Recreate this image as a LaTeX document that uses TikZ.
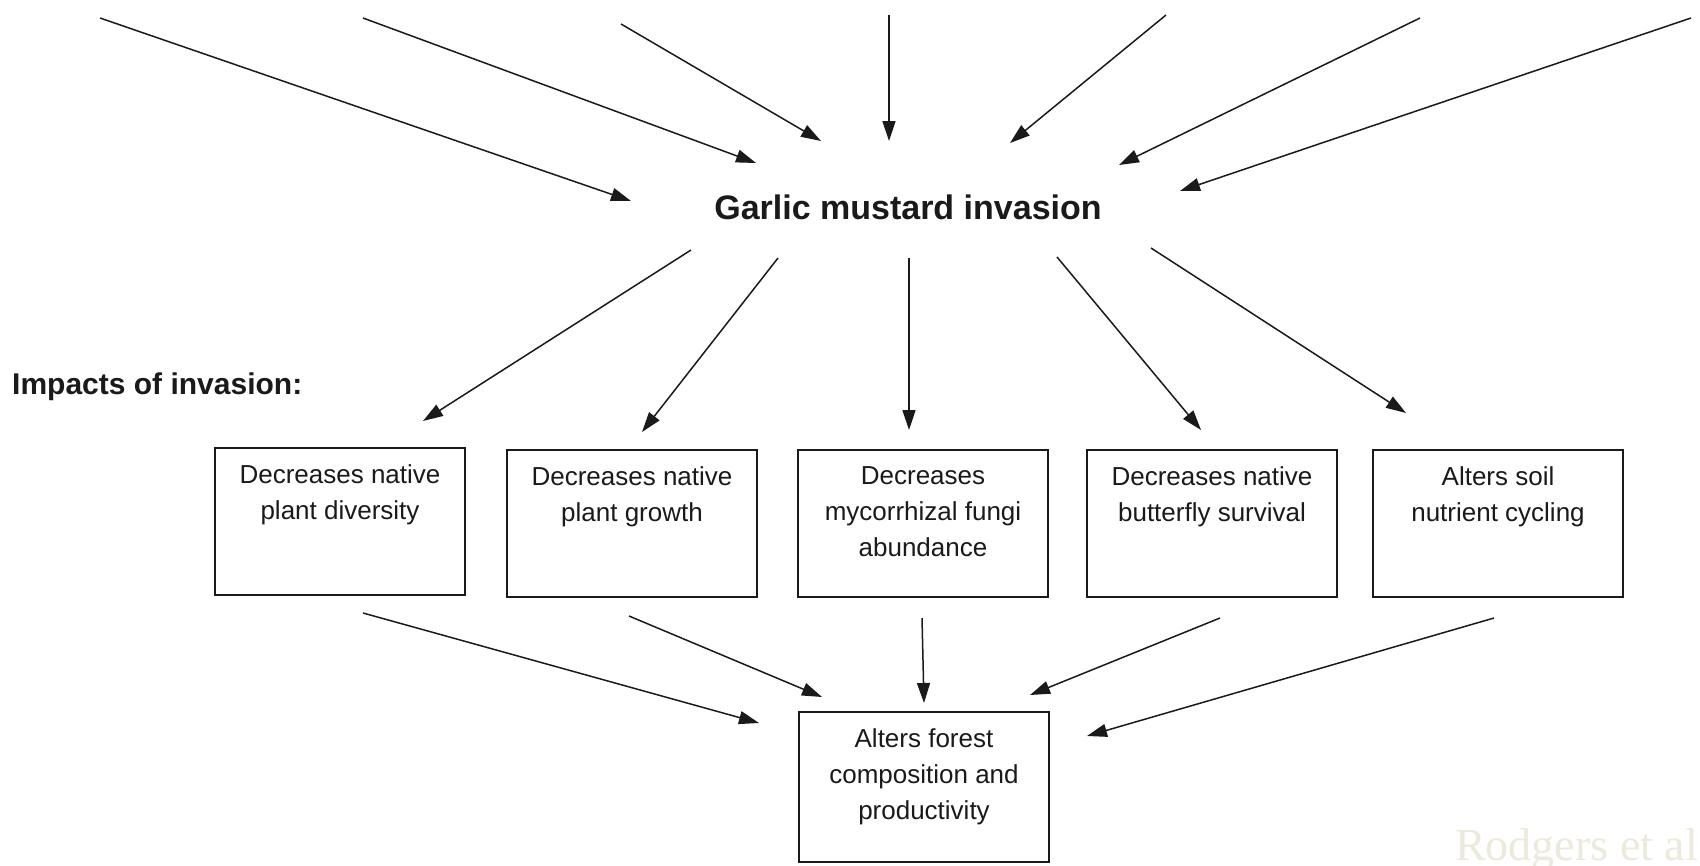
\documentclass[tikz,border=0pt]{standalone}
\usepackage{fontspec}
\setmainfont{Liberation Sans}
\newfontfamily\wmfont{Liberation Serif}
\usetikzlibrary{arrows.meta}
\definecolor{ink}{HTML}{1A1A1A}
\definecolor{wmcol}{HTML}{ECE9DD}
\begin{document}
\begin{tikzpicture}[x=1pt,y=-1pt,
  every node/.style={inner sep=0pt, text=ink},
  arr/.style={draw=ink, line width=1.5pt, -{Triangle[length=20pt,width=13pt]}},
  box/.style={draw=ink, line width=2pt, minimum width=250pt, minimum height=147pt, inner xsep=5pt, inner ysep=17pt},
  title/.style={font=\bfseries\fontsize{34}{40}\selectfont},
  side/.style={font=\bfseries\fontsize{30}{36}\selectfont, anchor=west}
]
\fill[white] (0,0) rectangle (1700,865);
\useasboundingbox (0,0) rectangle (1700,865);

% title and side label
\node[title] (gm) at (908,207) {Garlic mustard invasion};
\node[side] (imp) at (12,387) {Impacts of invasion:};

% impact boxes
\newcommand{\boxtext}[1]{\parbox[t][113pt][t]{240pt}{\centering\fontsize{26}{36}\selectfont #1}}
\node[box] (b1) at (340,521) {\boxtext{Decreases native\\plant diversity}};
\node[box] (b2) at (632,523) {\boxtext{Decreases native\\plant growth}};
\node[box] (b3) at (923,523) {\boxtext{Decreases\\mycorrhizal fungi\\abundance}};
\node[box] (b4) at (1212,523) {\boxtext{Decreases native\\butterfly survival}};
\node[box] (b5) at (1498,523) {\boxtext{Alters soil\\nutrient cycling}};
\node[box, minimum height=150pt] (b6) at (924,787) {\parbox[t][116pt][t]{240pt}{\centering\fontsize{26}{36}\selectfont Alters forest\\composition and\\productivity}};

% watermark
\node[anchor=base west, text=wmcol, font=\wmfont\fontsize{46}{46}\selectfont] (wm) at (1455,860) {Rodgers et al};

% top arrows (into the invasion)
\coordinate (t1) at (100,18);  \coordinate (e1) at (631,201);
\coordinate (t2) at (363,18);  \coordinate (e2) at (756,163);
\coordinate (t3) at (621,24);  \coordinate (e3) at (821,141);
\coordinate (t4) at (889,15);  \coordinate (e4) at (889,141);
\coordinate (t5) at (1166,15); \coordinate (e5) at (1010,143);
\coordinate (t6) at (1420,18); \coordinate (e6) at (1119,165);
\coordinate (t7) at (1691,18); \coordinate (e7) at (1180,191);
\foreach \i in {1,...,7} \draw[arr] (t\i) -- (e\i);

% middle arrows (invasion to impacts)
\coordinate (m1) at (691,250);  \coordinate (n1) at (423,421);
\coordinate (m2) at (778,258);  \coordinate (n2) at (642,432);
\coordinate (m3) at (909,258);  \coordinate (n3) at (909,430);
\coordinate (m4) at (1057,257); \coordinate (n4) at (1201,430);
\coordinate (m5) at (1151,248); \coordinate (n5) at (1406,413);
\foreach \i in {1,...,5} \draw[arr] (m\i) -- (n\i);

% bottom arrows (impacts to forest)
\coordinate (p1) at (363,613);  \coordinate (q1) at (759,723);
\coordinate (p2) at (629,616);  \coordinate (q2) at (822,697);
\coordinate (p3) at (922,618);  \coordinate (q3) at (924,703);
\coordinate (p4) at (1220,618); \coordinate (q4) at (1030,695);
\coordinate (p5) at (1494,618); \coordinate (q5) at (1087,736);
\foreach \i in {1,...,5} \draw[arr] (p\i) -- (q\i);
\end{tikzpicture}
\end{document}
